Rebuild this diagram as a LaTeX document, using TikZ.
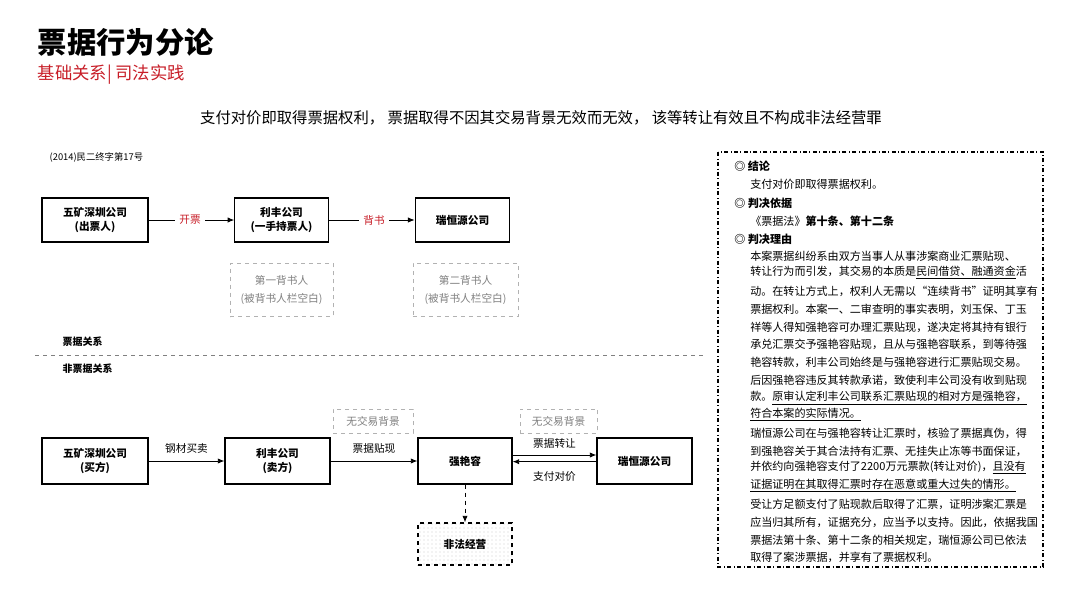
\documentclass[tikz,border=0pt]{standalone}
\usepackage{fontspec}
\setmainfont{Noto Sans CJK SC}
\usetikzlibrary{arrows.meta,patterns}
\definecolor{tred}{RGB}{200,30,40}
\begin{document}
\begin{tikzpicture}[x=0.75pt,y=-0.75pt,
  box/.style={draw,line width=0.8pt,font=\fontsize{8}{10}\selectfont\bfseries,align=center,inner sep=0pt},
  gbox/.style={draw=gray!60,dashed,text=gray,font=\fontsize{8}{14}\selectfont,align=center,inner sep=0pt},
  arr/.style={-{Latex[length=5pt,width=4pt]},line width=0.7pt},
  lbl/.style={font=\fontsize{8}{10}\selectfont},
  body/.style={anchor=west,font=\fontsize{8.3}{10}\selectfont,inner sep=0pt}]
\path[use as bounding box] (0,0) rectangle (1080,608);
\fill[white] (0,0) rectangle (1080,608);
\node[anchor=west,font=\fontsize{22}{24}\selectfont\bfseries] (title) at (33,42) {票据行为分论};
\node[anchor=west,font=\fontsize{13}{15}\selectfont,text=tred] (sub) at (33,75) {基础关系| 司法实践};
\node[font=\fontsize{11.5}{14}\selectfont] (head) at (541,118) {支付对价即取得票据权利，\ 票据取得不因其交易背景无效而无效，\ 该等转让有效且不构成非法经营罪};
\node[anchor=west,font=\fontsize{7}{9}\selectfont] (case) at (45,157) {(2014)民二终字第17号};
% top row
\node[box,minimum width=79.5pt,minimum height=33pt] (a1) at (95,220) {五矿深圳公司\\(出票人)};
\node[box,minimum width=70pt,minimum height=33pt] (b1) at (281.5,220) {利丰公司\\(一手持票人)};
\node[box,minimum width=71pt,minimum height=33pt] (c1) at (462.5,220) {瑞恒源公司};
\node[lbl,text=tred,fill=white] (l1) at (190,220) {开票};
\node[lbl,text=tred,fill=white] (l2) at (374,220) {背书};
\draw[line width=0.7pt] (a1) -- (l1);
\draw[arr] (l1) -- (b1);
\draw[line width=0.7pt] (b1) -- (l2);
\draw[arr] (l2) -- (c1);
\node[gbox,minimum width=77pt,minimum height=40pt] (g1) at (281.5,290) {第一背书人\\(被背书人栏空白)};
\node[gbox,minimum width=79pt,minimum height=40pt] (g2) at (465.5,290) {第二背书人\\(被背书人栏空白)};
\node[anchor=west,font=\fontsize{7.5}{9}\selectfont\bfseries\itshape] (r1) at (58,342) {票据关系};
\draw[dashed,gray,line width=0.6pt] (35,355) -- (705,355);
\node[anchor=west,font=\fontsize{7.5}{9}\selectfont\bfseries\itshape] (r2) at (58,369) {非票据关系};
% bottom row
\node[box,minimum width=79.5pt,minimum height=34.5pt] (a2) at (95,461) {五矿深圳公司\\(买方)};
\node[box,minimum width=78.75pt,minimum height=34.5pt] (b2) at (277.5,461) {利丰公司\\(卖方)};
\node[box,minimum width=70.5pt,minimum height=34.5pt] (c2) at (465,461) {强艳容};
\node[box,minimum width=71.25pt,minimum height=34.5pt] (d2) at (644.5,461) {瑞恒源公司};
\node[box,dashed,pattern=dots,pattern color=gray!40,minimum width=70.5pt,minimum height=31.5pt] (e2) at (465,544) {非法经营};
\node[gbox,minimum width=60pt,minimum height=18pt] (n1) at (373,421) {无交易背景};
\node[gbox,minimum width=58pt,minimum height=18pt] (n2) at (558.5,421) {无交易背景};
\draw[arr] (a2) -- node[lbl,above=2pt] {钢材买卖} (b2);
\draw[arr] (b2) -- node[lbl,above=2pt] {票据贴现} (c2);
\draw[arr] ([yshift=4.5pt]c2.east) -- node[lbl,above=1pt] {票据转让} ([yshift=4.5pt]d2.west);
\draw[arr] ([yshift=-0.5pt]d2.west) -- node[lbl,below=4pt] {支付对价} ([yshift=-0.5pt]c2.east);
\draw[arr,dashed] (c2) -- (e2);
% right panel
\draw[dash dot,line width=0.8pt] (718,152) rectangle (1043,567);
\begin{scope}[every node/.style={body}]
\node at (734,166) {\bfseries ◎ 结论};
\node at (750,184) {支付对价即取得票据权利。};
\node at (734,203) {\bfseries ◎ 判决依据};
\node at (750,221) {《票据法》\textbf{第十条、第十二条}};
\node at (734,239) {\bfseries ◎ 判决理由};
\node at (750,256) {本案票据纠纷系由双方当事人从事涉案商业汇票贴现、};
\node at (750,273) {转让行为而引发，其交易的本质是\underline{民间借贷、融通资金}活};
\node at (750,291) {动。在转让方式上，权利人无需以“连续背书”证明其享有};
\node at (750,309) {票据权利。本案一、二审查明的事实表明，刘玉保、丁玉};
\node at (750,327) {祥等人得知强艳容可办理汇票贴现，遂决定将其持有银行};
\node at (750,344) {承兑汇票交予强艳容贴现，且从与强艳容联系，到等待强};
\node at (750,362) {艳容转款，利丰公司始终是与强艳容进行汇票贴现交易。};
\node at (750,380) {后因强艳容违反其转款承诺，致使利丰公司没有收到贴现};
\node at (750,398) {款。\underline{原审认定利丰公司联系汇票贴现的相对方是强艳容，}};
\node at (750,415) {\underline{符合本案的实际情况。}};
\node at (750,433) {瑞恒源公司在与强艳容转让汇票时，核验了票据真伪，得};
\node at (750,451) {到强艳容关于其合法持有汇票、无挂失止冻等书面保证，};
\node at (750,468) {并依约向强艳容支付了2200万元票款(转让对价)，\underline{且没有}};
\node at (750,486) {\underline{证据证明在其取得汇票时存在恶意或重大过失的情形。}};
\node at (750,504) {受让方足额支付了贴现款后取得了汇票，证明涉案汇票是};
\node at (750,522) {应当归其所有，证据充分，应当予以支持。因此，依据我国};
\node at (750,540) {票据法第十条、第十二条的相关规定，瑞恒源公司已依法};
\node at (750,557) {取得了案涉票据，并享有了票据权利。};
\end{scope}
\end{tikzpicture}
\end{document}
